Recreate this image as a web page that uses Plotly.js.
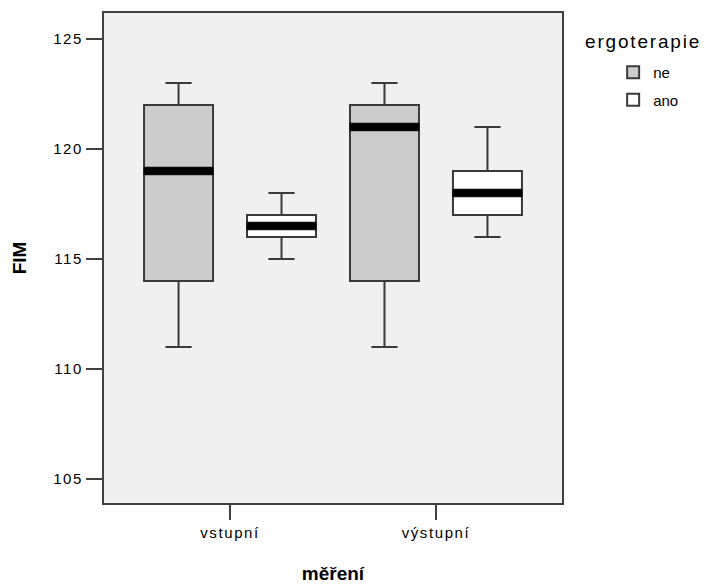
<!DOCTYPE html>
<html>
<head>
<meta charset="utf-8">
<script src="https://cdn.plot.ly/plotly-3.0.1.min.js"></script>
<style>
html, body { margin: 0; padding: 0; background: #ffffff; }
#chart { width: 716px; height: 587px; }
#chart .xtick text, #chart .ytick text { letter-spacing: 1.6px; }
#chart .annotation-text { letter-spacing: 1.8px; }
</style>
</head>
<body>
<div id="chart"></div>
<script>
// Categories (x axis) and groups (legend)
const categories = ['vstupní', 'výstupní'];
const groups = ['ne', 'ano'];
const legendTitle = 'ergoterapie';

// Box statistics per group, one value per category
const ne_lowerfence = [111, 111];
const ne_q1 = [114, 114];
const ne_median = [119, 121];
const ne_q3 = [122, 122];
const ne_upperfence = [123, 123];

const ano_lowerfence = [115, 116];
const ano_q1 = [116, 117];
const ano_median = [116.5, 118];
const ano_q3 = [117, 119];
const ano_upperfence = [118, 121];

const yTicks = [105, 110, 115, 120, 125];

const fills = { ne: '#cccccc', ano: '#ffffff' };
const edge = '#3a3a3a';
const medianHalf = 0.17; // half-thickness of the heavy median band (style)

const stats = {
  ne: { lf: ne_lowerfence, q1: ne_q1, med: ne_median, q3: ne_q3, uf: ne_upperfence },
  ano: { lf: ano_lowerfence, q1: ano_q1, med: ano_median, q3: ano_q3, uf: ano_upperfence }
};

const traces = [];
groups.forEach(function (g) {
  const s = stats[g];
  traces.push({
    type: 'box', name: g, x: categories,
    q1: s.q1, median: s.med, q3: s.q3, lowerfence: s.lf, upperfence: s.uf,
    fillcolor: fills[g], line: { color: edge, width: 2 },
    whiskerwidth: 0.38, boxpoints: false,
    alignmentgroup: 'all', offsetgroup: g, legendgroup: g,
    hoverinfo: 'skip'
  });
});
// heavy median bands drawn as thin black boxes at each median
groups.forEach(function (g) {
  const s = stats[g];
  traces.push({
    type: 'box', name: g + ' medián', x: categories,
    q1: s.med.map(function (m) { return m - medianHalf; }),
    median: s.med,
    q3: s.med.map(function (m) { return m + medianHalf; }),
    lowerfence: s.med.map(function (m) { return m - medianHalf; }),
    upperfence: s.med.map(function (m) { return m + medianHalf; }),
    fillcolor: '#000000', line: { color: '#000000', width: 1 },
    whiskerwidth: 0, boxpoints: false,
    alignmentgroup: 'all', offsetgroup: g, legendgroup: g,
    showlegend: false, hoverinfo: 'skip'
  });
});

const font = 'Liberation Sans, Arial, sans-serif';

const layout = {
  width: 716, height: 587,
  margin: { l: 104, r: 154, t: 13, b: 84 },
  paper_bgcolor: '#ffffff',
  plot_bgcolor: '#f0f0f0',
  font: { family: font, color: '#000000', size: 15 },
  boxmode: 'group', boxgap: 0, boxgroupgap: 0.33,
  showlegend: true,
  legend: {
    x: 1.068, xanchor: 'left', y: 0.912, yanchor: 'top',
    bgcolor: 'rgba(0,0,0,0)',
    font: { size: 15, family: font },
    traceorder: 'grouped', tracegroupgap: 5, indentation: 20
  },
  annotations: [{
    text: legendTitle, xref: 'paper', yref: 'paper',
    x: 1.0677, xanchor: 'left', y: 0.941, yanchor: 'middle',
    showarrow: false, font: { size: 19, family: font, color: '#000000' }
  }],
  xaxis: {
    type: 'category',
    range: [-0.612, 1.612],
    showline: true, mirror: true, linecolor: '#404040', linewidth: 2,
    ticks: 'outside', ticklen: 15, tickwidth: 2, tickcolor: '#404040',
    showgrid: false, zeroline: false,
    tickfont: { size: 15, family: font },
    title: { text: '<b>měření</b>', font: { size: 19, family: font }, standoff: 27 }
  },
  yaxis: {
    range: [103.91, 126.18],
    tickmode: 'array', tickvals: yTicks, ticktext: yTicks.map(String),
    showline: true, mirror: true, linecolor: '#404040', linewidth: 2,
    ticks: 'outside', ticklen: 16, tickwidth: 2, tickcolor: '#404040',
    showgrid: false, zeroline: false,
    tickfont: { size: 15, family: font },
    title: { text: '<b>FIM</b>', font: { size: 19, family: font }, standoff: 26 }
  }
};

Plotly.newPlot('chart', traces, layout, { displayModeBar: false, staticPlot: true });
</script>
</body>
</html>
